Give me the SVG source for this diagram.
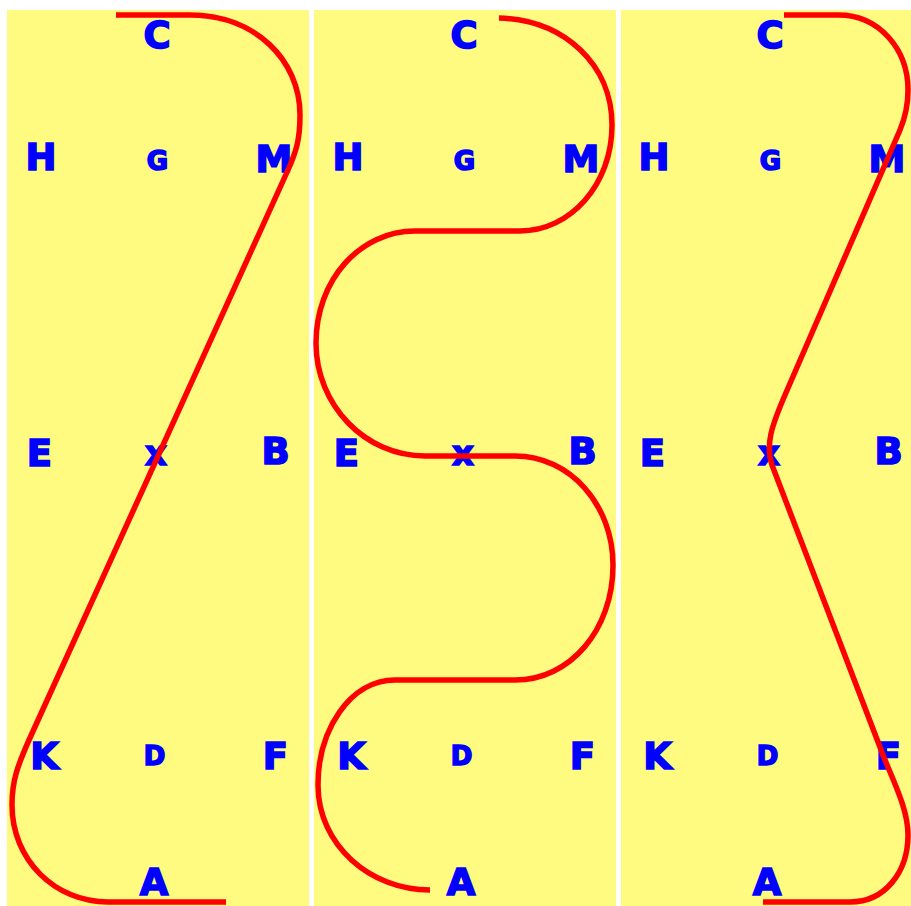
<svg xmlns="http://www.w3.org/2000/svg" width="911" height="906" viewBox="0 0 911 906">
<style>
.panel{fill:#FFFA80}
.big,.small,.xs{font-family:"DejaVu Sans","Liberation Sans",sans-serif;font-weight:bold;fill:#0000FF;stroke:#0000FF;stroke-width:1.6;stroke-linejoin:miter;text-anchor:middle}
.big{font-size:37px}
.small{font-size:26px}
.xs{font-size:34px}
.curve{fill:none;stroke:#FF0000;stroke-width:5.5;stroke-linejoin:round}
</style>
<defs>
<g id="labels">
<text class="big" x="157" y="48">C</text>
<text class="big" x="41" y="170">H</text>
<text class="small" x="157.5" y="170">G</text>
<text class="big" x="274" y="172">M</text>
<text class="big" x="39.5" y="466">E</text>
<text class="xs" x="156" y="465">x</text>
<text class="big" x="275.5" y="464">B</text>
<text class="big" x="44.5" y="769">K</text>
<text class="small" x="154.5" y="765">D</text>
<text class="big" x="275.5" y="769">F</text>
<text class="big" x="154" y="895">A</text>
</g>
</defs>
<rect width="911" height="906" fill="#FFFFFF"/>
<g id="panel1">
<rect class="panel" x="7" y="10" width="302" height="896"/>
<use href="#labels"/>
</g>
<g id="panel2">
<rect class="panel" x="314" y="10" width="302" height="896"/>
<use href="#labels" transform="translate(307,0)"/>
</g>
<g id="panel3">
<rect class="panel" x="621" y="10" width="290" height="896"/>
<use href="#labels" transform="translate(613,0)"/>
</g>
<g id="connectors">
<path class="curve" d="M116,15 H190 C255,15 300,60 300,115 C300,140 296,152 288,170 L29,740 C18,765 12,780 12,805 C12,860 55,902 108,902 H226"/>
<path class="curve" d="M499,18 C565,20 612,65 612,125 C612,185 570,231 520,231 H415 C360,231 316,280 316,343 C316,405 365,456 425,456 H515 C570,456 613,505 613,565 C613,630 570,680 515,680 H395 C350,680 318,730 318,785 C318,845 370,890 430,890"/>
<path class="curve" d="M784,15 H838 C880,15 908,50 908,90 C908,105 905,118 900,130 L785,395 C772,425 765,445 772,465 L883,755 C895,785 908,810 908,835 C908,872 885,902 850,902 H763"/>
</g>
</svg>
